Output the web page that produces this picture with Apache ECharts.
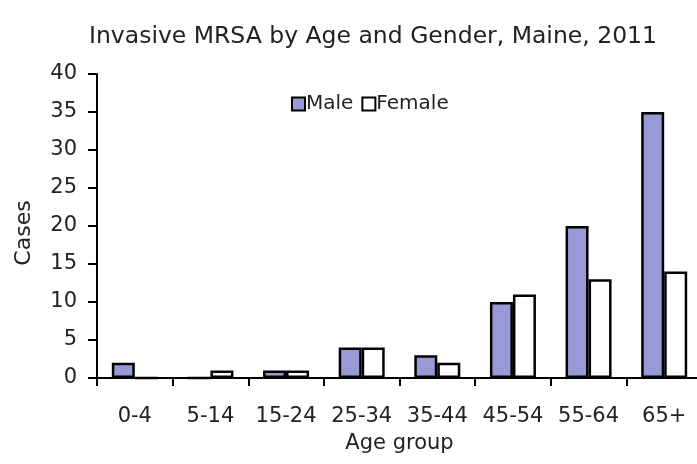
<!DOCTYPE html>
<html>
<head>
<meta charset="utf-8">
<script src="https://cdn.jsdelivr.net/npm/echarts@6/dist/echarts.min.js"></script>
<style>html,body{margin:0;padding:0;background:#fff;}#c{width:697px;height:464px;}</style>
</head>
<body>
<div id="c"></div>
<script>
var categories = ['0-4', '5-14', '15-24', '25-34', '35-44', '45-54', '55-64', '65+'];
var maleValues = [2, 0, 1, 4, 3, 10, 20, 35];
var femaleValues = [0, 1, 1, 4, 2, 11, 13, 14];
var seriesNames = ['Male', 'Female'];
var titleText = 'Invasive MRSA by Age and Gender, Maine, 2011';

var chart = echarts.init(document.getElementById('c'), null, {renderer: 'canvas'});
var font = 'DejaVu Sans, Liberation Sans, Arial, sans-serif';
chart.setOption({
  animation: false,
  backgroundColor: '#ffffff',
  title: {
    text: titleText,
    left: 368, top: 20, textAlign: 'center',
    textStyle: {fontFamily: font, fontSize: 23.5, fontWeight: 'normal', color: '#222'}
  },
  legend: {
    data: seriesNames,
    left: 286, top: 89,
    itemWidth: 13, itemHeight: 13, itemGap: 8,
    icon: 'rect',
    textStyle: {fontFamily: font, fontSize: 20, color: '#222', padding: [0, 0, 0, -4]}
  },
  grid: {left: 97, top: 74, width: 605, height: 304, containLabel: false, outerBoundsMode: 'none'},
  xAxis: {
    type: 'category',
    data: categories,
    name: 'Age group',
    nameLocation: 'middle',
    nameGap: 55,
    nameMoveOverlap: false,
    nameTextStyle: {fontFamily: font, fontSize: 21, color: '#222'},
    axisLine: {lineStyle: {color: '#000', width: 2}},
    axisTick: {show: true, inside: false, length: 8, lineStyle: {color: '#000', width: 2}},
    axisLabel: {fontFamily: font, fontSize: 21, color: '#222', margin: 28, interval: 0}
  },
  yAxis: {
    type: 'value',
    min: 0, max: 40, interval: 5,
    name: 'Cases',
    nameLocation: 'middle',
    nameGap: 62,
    nameMoveOverlap: false,
    nameTextStyle: {fontFamily: font, fontSize: 22, color: '#222', padding: [0, 14, 0, 0]},
    axisLine: {show: true, lineStyle: {color: '#000', width: 2}},
    axisTick: {show: true, inside: false, length: 9, lineStyle: {color: '#000', width: 2}},
    axisLabel: {fontFamily: font, fontSize: 21, color: '#222', margin: 20},
    splitLine: {show: false}
  },
  series: [
    {
      name: seriesNames[0], type: 'bar', data: maleValues,
      barWidth: 23, barGap: '0%',
      itemStyle: {color: '#9999d8', borderColor: '#000', borderWidth: 2.5}
    },
    {
      name: seriesNames[1], type: 'bar', data: femaleValues,
      barWidth: 23, barGap: '0%',
      itemStyle: {color: '#ffffff', borderColor: '#000', borderWidth: 2.5}
    }
  ]
});
</script>
</body>
</html>
